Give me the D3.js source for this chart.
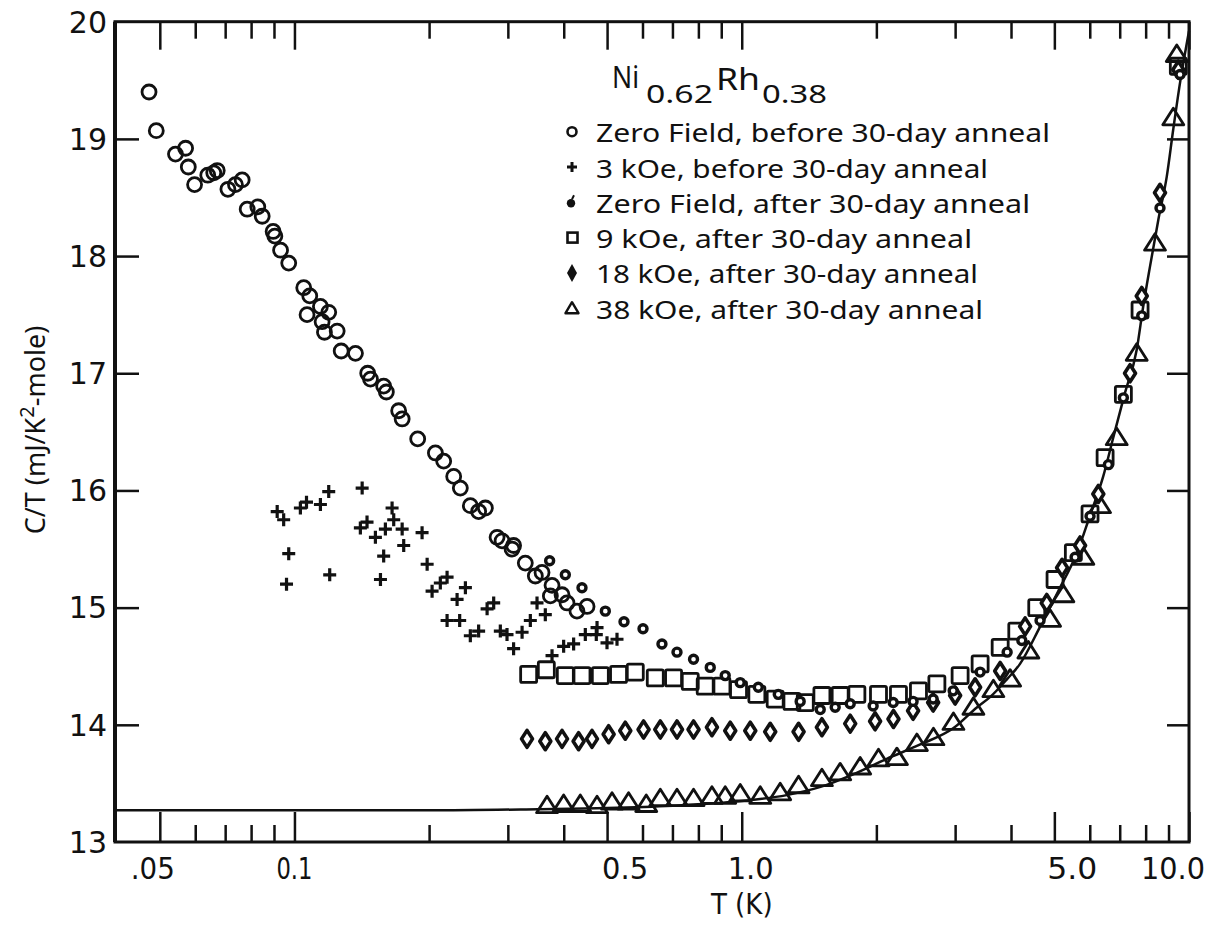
<!DOCTYPE html>
<html><head><meta charset="utf-8">
<script src="https://cdn.jsdelivr.net/npm/d3@7"></script>
<style>body{margin:0;background:#fff}</style>
</head><body>
<svg id="c" width="1220" height="931"></svg>
<script>
// ---------------- data ----------------
const zeroBeforeT = [0.0473,0.0491,0.0542,0.0571,0.0579,0.0598,0.0640,0.0660,0.0672,0.0710,0.0738,0.0764,0.0784,0.0828,0.0847,0.0896,0.0904,0.0931,0.0971,0.1049,0.1082,0.1143,0.1193,0.1067,0.1153,0.1167,0.1246,0.1272,0.1369,0.1458,0.1479,0.1583,0.1605,0.1710,0.1741,0.1886,0.2066,0.2156,0.2270,0.2349,0.2473,0.2581,0.2672,0.2838,0.2912,0.3065,0.3090,0.3282,0.3456,0.3577,0.3766,0.3734,0.3965,0.4068,0.4282,0.4510];
const zeroBeforeV = [19.40,19.07,18.87,18.92,18.76,18.61,18.69,18.71,18.73,18.57,18.61,18.65,18.40,18.42,18.34,18.21,18.17,18.05,17.94,17.73,17.66,17.57,17.52,17.50,17.44,17.35,17.36,17.19,17.17,17.00,16.95,16.89,16.84,16.68,16.61,16.44,16.32,16.25,16.12,16.02,15.87,15.82,15.85,15.60,15.57,15.50,15.53,15.38,15.27,15.30,15.19,15.10,15.11,15.04,14.97,15.01];

const kOe3BeforeT = [0.0915,0.0946,0.0971,0.0960,0.1031,0.1064,0.1143,0.1193,0.1199,0.1417,0.1404,0.1453,0.1517,0.1597,0.1653,0.1667,0.1741,0.1755,0.1583,0.1557,0.1929,0.1980,0.2031,0.2119,0.2194,0.2310,0.2411,0.2194,0.2341,0.2473,0.2581,0.2696,0.2789,0.2886,0.2987,0.3090,0.3228,0.3368,0.3486,0.3638,0.3766,0.3998,0.4209,0.4470,0.4748,0.4730,0.4998,0.5262];
const kOe3BeforeV = [15.82,15.75,15.46,15.20,15.85,15.90,15.88,15.99,15.28,16.02,15.68,15.73,15.60,15.67,15.85,15.75,15.67,15.53,15.44,15.24,15.64,15.37,15.14,15.21,15.26,15.07,15.17,14.89,14.89,14.76,14.80,14.99,15.04,14.80,14.77,14.65,14.79,14.89,15.04,14.94,14.59,14.67,14.69,14.77,14.83,14.77,14.70,14.73];

const zeroAfterT = [0.3720,0.4033,0.4394,0.4955,0.5455,0.6016,0.6632,0.7166,0.7803,0.8504,0.9185,0.9923,1.089,1.207,1.351,1.498,1.618,1.748,1.967,2.181,2.416,2.679,2.970,3.412,3.921,4.229,4.645,5.563,6.008,6.603,7.133,7.841,8.613,9.548];
const zeroAfterV = [15.40,15.28,15.17,14.97,14.88,14.82,14.69,14.62,14.56,14.49,14.42,14.36,14.32,14.26,14.20,14.13,14.15,14.18,14.16,14.19,14.20,14.22,14.29,14.45,14.62,14.72,14.89,15.43,15.78,16.22,16.79,17.49,18.41,19.55];

const kOe9AfterT = [0.3339,0.3657,0.4033,0.4394,0.4829,0.5304,0.5781,0.6408,0.7041,0.7672,0.8286,0.9031,0.9836,1.081,1.188,1.295,1.387,1.511,1.660,1.809,2.022,2.241,2.484,2.731,3.078,3.412,3.783,4.121,4.567,5.018,5.514,6.008,6.493,7.133,7.773,9.465];
const kOe9AfterV = [14.43,14.47,14.42,14.42,14.42,14.43,14.45,14.40,14.40,14.37,14.33,14.33,14.30,14.26,14.22,14.20,14.19,14.25,14.25,14.26,14.26,14.26,14.29,14.35,14.42,14.52,14.66,14.80,15.00,15.24,15.47,15.80,16.28,16.82,17.54,19.62];

const kOe18AfterT = [0.3311,0.3638,0.3965,0.4318,0.4626,0.5040,0.5491,0.6033,0.6576,0.7166,0.7803,0.8578,0.9426,1.045,1.158,1.340,1.511,1.748,1.987,2.184,2.416,2.679,3.000,3.325,3.783,4.301,4.808,5.203,5.708,6.270,7.382,7.841,8.613,9.465];
const kOe18AfterV = [13.88,13.86,13.88,13.86,13.88,13.92,13.95,13.96,13.96,13.96,13.96,13.98,13.95,13.95,13.94,13.94,13.98,14.01,14.03,14.05,14.12,14.19,14.25,14.32,14.46,14.84,15.04,15.34,15.53,15.97,17.00,17.66,18.54,19.59];

const kOe38AfterT = [0.3671,0.3998,0.4356,0.4748,0.5129,0.5585,0.6117,0.6576,0.7166,0.7803,0.8578,0.9185,0.9923,1.100,1.219,1.340,1.511,1.660,1.840,2.022,2.223,2.464,2.683,2.974,3.296,3.653,3.981,4.374,4.891,5.238,5.805,6.326,6.893,7.640,8.395,9.223,9.390];
const kOe38AfterV = [13.31,13.32,13.32,13.31,13.34,13.34,13.32,13.37,13.37,13.37,13.39,13.39,13.41,13.39,13.42,13.48,13.54,13.59,13.64,13.71,13.72,13.84,13.89,14.02,14.15,14.30,14.39,14.63,14.90,15.11,15.43,15.87,16.45,17.17,18.11,19.18,19.72];

// solid curve, points
const curveT = [0.0397,0.1,0.2,0.35,0.5,0.7,1.0,1.26,1.5,1.78,2.11,2.5,2.97,3.36,3.6,3.92,4.19,4.65,5.1,5.62,6.0,6.43,6.77,7.19,7.64,7.9,8.18,8.54,8.92,9.22,9.55,10.0];
const curveV = [13.27,13.27,13.27,13.28,13.29,13.31,13.35,13.40,13.47,13.58,13.71,13.83,13.97,14.15,14.24,14.39,14.52,14.84,15.14,15.47,15.78,16.12,16.45,16.83,17.20,17.57,17.91,18.31,18.68,19.08,19.48,19.92];

const xMajorTicks = [0.05,0.1,0.5,1,5,10];
const xMinorTicks = [0.06,0.07,0.08,0.09,0.2,0.3,0.4,0.6,0.7,0.8,0.9,2,3,4,6,7,8,9];
const xTickLabels = [".05","0.1","0.5","1.0","5.0","10.0"];
const yTicks = [13,14,15,16,17,18,19,20];
const legendLabels = ["Zero Field, before 30-day anneal","3 kOe, before 30-day anneal","Zero Field, after 30-day anneal","9 kOe, after 30-day anneal","18 kOe, after 30-day anneal","38 kOe, after 30-day anneal"];

// ---------------- layout ----------------
const L = 115, R = 1189, T0 = 21.7, B = 842;
const svg = d3.select("#c");
const x = d3.scaleLog().domain([0.0397, 10]).range([L, R]);
const y = d3.scaleLinear().domain([13, 20]).range([B, T0]);
const ink = "#111";
const fontMain = "'Noto Sans','DejaVu Sans',sans-serif";

// ticks
function styleAxis(g){ g.select(".domain").remove(); g.selectAll("line").attr("stroke", ink).attr("stroke-width", 2.5); g.selectAll("text").remove(); }
svg.append("g").attr("transform",`translate(0,${B})`).call(d3.axisBottom(x).tickValues(xMinorTicks).tickSize(-17)).call(styleAxis);
svg.append("g").attr("transform",`translate(0,${B})`).call(d3.axisBottom(x).tickValues(xMajorTicks).tickSize(-30)).call(styleAxis);
svg.append("g").attr("transform",`translate(0,${T0})`).call(d3.axisTop(x).tickValues(xMinorTicks).tickSize(-17)).call(styleAxis);
svg.append("g").attr("transform",`translate(0,${T0})`).call(d3.axisTop(x).tickValues(xMajorTicks).tickSize(-28)).call(styleAxis);
svg.append("g").attr("transform",`translate(${L},0)`).call(d3.axisLeft(y).tickValues(yTicks.slice(1,-1)).tickSize(-24)).call(styleAxis);
svg.append("g").attr("transform",`translate(${R},0)`).call(d3.axisRight(y).tickValues(yTicks.slice(1,-1)).tickSize(-22)).call(styleAxis);

// frame
svg.append("rect").attr("x",L).attr("y",T0).attr("width",R-L).attr("height",B-T0)
  .attr("fill","none").attr("stroke",ink).attr("stroke-width",3);
svg.append("line").attr("x1",L).attr("x2",L).attr("y1",T0).attr("y2",B).attr("stroke",ink).attr("stroke-width",4);

// tick labels (hand-lettered in the original: slightly offset from their ticks)
const xLabelDx = [-7,0,18,9,18,-16];
const xLabelW = [44,36,46,46,50,64];
svg.append("g").selectAll("text").data(xMajorTicks).join("text")
  .attr("x",(d,i)=>x(d)+xLabelDx[i]-xLabelW[i]/2).attr("y",B+37)
  .attr("textLength",(d,i)=>xLabelW[i]).attr("lengthAdjust","spacingAndGlyphs")
  .attr("font-family","'Liberation Sans Narrow','DejaVu Sans Condensed','Liberation Sans',sans-serif")
  .attr("font-size",30).attr("fill",ink).text((d,i)=>xTickLabels[i]);

svg.append("g").selectAll("text").data(yTicks).join("text")
  .attr("x",L-8).attr("y",d=>y(d)).attr("dy","0.36em")
  .attr("text-anchor","end").attr("font-family","'DejaVu Sans',sans-serif")
  .attr("font-size",30).attr("fill",ink).text(d=>d);

// axis titles
svg.append("text").attr("x",x(1)).attr("y",914).attr("text-anchor","middle")
  .attr("font-family","'Liberation Sans Narrow','DejaVu Sans Condensed','Liberation Sans',sans-serif")
  .attr("font-size",29).attr("fill",ink).text("T (K)");
const yt = svg.append("text").attr("transform","translate(45,430) rotate(-90)").attr("text-anchor","middle")
  .attr("font-family",fontMain).attr("font-size",27).attr("fill",ink);
yt.append("tspan").text("C/T (mJ/K");
yt.append("tspan").attr("dy",-11).attr("font-size",20).text("2");
yt.append("tspan").attr("dy",11).text("-mole)");

// curve
const line = d3.line().x((d,i)=>x(curveT[i])).y((d,i)=>y(curveV[i])).curve(d3.curveMonotoneX);
svg.append("path").attr("d",line(curveT)).attr("fill","none").attr("stroke",ink).attr("stroke-width",2.5);

// markers
const sw = 2.8;
function pts(tA,vA){ return tA.map((t,i)=>({t,v:vA[i]})); }
const gM = svg.append("g");
// 38 kOe triangles
gM.append("g").selectAll("path").data(pts(kOe38AfterT,kOe38AfterV)).join("path")
  .attr("transform",d=>`translate(${x(d.t)},${y(d.v)})`).attr("d","M0,-9.5L10.5,7L-10.5,7Z")
  .attr("fill","none").attr("stroke",ink).attr("stroke-width",sw).attr("stroke-linejoin","round");
// 9 kOe squares
gM.append("g").selectAll("rect").data(pts(kOe9AfterT,kOe9AfterV)).join("rect")
  .attr("x",d=>x(d.t)-8).attr("y",d=>y(d.v)-8).attr("width",16).attr("height",16).attr("rx",1.5)
  .attr("fill","none").attr("stroke",ink).attr("stroke-width",sw);
// 18 kOe diamonds
gM.append("g").selectAll("path").data(pts(kOe18AfterT,kOe18AfterV)).join("path")
  .attr("transform",d=>`translate(${x(d.t)},${y(d.v)})`).attr("d","M0,-8.5L5.5,0L0,8.5L-5.5,0Z")
  .attr("fill","#fff").attr("stroke",ink).attr("stroke-width",3.6).attr("stroke-linejoin","round");
// zero field after: small heavy rings
gM.append("g").selectAll("circle").data(pts(zeroAfterT,zeroAfterV)).join("circle")
  .attr("cx",d=>x(d.t)).attr("cy",d=>y(d.v)).attr("r",4)
  .attr("fill","#fff").attr("stroke",ink).attr("stroke-width",3.4);
// zero field before: open circles
gM.append("g").selectAll("circle").data(pts(zeroBeforeT,zeroBeforeV)).join("circle")
  .attr("cx",d=>x(d.t)).attr("cy",d=>y(d.v)).attr("r",7)
  .attr("fill","none").attr("stroke",ink).attr("stroke-width",sw);
// 3 kOe pluses
gM.append("g").selectAll("path").data(pts(kOe3BeforeT,kOe3BeforeV)).join("path")
  .attr("transform",d=>`translate(${x(d.t)},${y(d.v)})`).attr("d","M-6.5,0H6.5M0,-6.5V6.5")
  .attr("fill","none").attr("stroke",ink).attr("stroke-width",3.2);

// legend
const lg = svg.append("g").attr("font-family",fontMain).attr("fill",ink);
lg.append("text").attr("x",612).attr("y",88).attr("font-size",30).attr("textLength",27).attr("lengthAdjust","spacingAndGlyphs").text("Ni");
lg.append("text").attr("x",646).attr("y",103).attr("font-size",25).attr("textLength",67).attr("lengthAdjust","spacingAndGlyphs").text("0.62");
lg.append("text").attr("x",716).attr("y",90).attr("font-size",30).attr("textLength",44).attr("lengthAdjust","spacingAndGlyphs").text("Rh");
lg.append("text").attr("x",762).attr("y",103).attr("font-size",25).attr("textLength",65).attr("lengthAdjust","spacingAndGlyphs").text("0.38");

const legEnds = [1050,988,1030,972,978,983];
const legY0 = 131.7, legDy = 35.3, legTX = 596, legMX = 572;
lg.selectAll("text.e").data(legendLabels).join("text").attr("class","e")
  .attr("x",legTX).attr("y",(d,i)=>legY0+i*legDy+10.5).attr("font-size",25)
  .attr("textLength",(d,i)=>legEnds[i]-legTX).attr("lengthAdjust","spacingAndGlyphs").text(d=>d);
const my = i=>legY0+i*legDy;
lg.append("circle").attr("cx",legMX).attr("cy",my(0)).attr("r",4.5).attr("fill","none").attr("stroke",ink).attr("stroke-width",2.6);
lg.append("path").attr("transform",`translate(${legMX},${my(1)})`).attr("d","M-5,0H5M0,-5V5").attr("stroke",ink).attr("stroke-width",3);
lg.append("circle").attr("cx",legMX-1).attr("cy",my(2)+1).attr("r",4.2).attr("fill",ink);
lg.append("path").attr("transform",`translate(${legMX-1},${my(2)+1})`).attr("d","M1,-4L3,-8").attr("stroke",ink).attr("stroke-width",2);
lg.append("rect").attr("x",legMX-4.5).attr("y",my(3)-5).attr("width",10).attr("height",10).attr("fill","none").attr("stroke",ink).attr("stroke-width",2.6);
lg.append("path").attr("transform",`translate(${legMX},${my(4)})`).attr("d","M0,-9L5,0L0,9L-5,0Z").attr("fill",ink);
lg.append("path").attr("transform",`translate(${legMX},${my(5)})`).attr("d","M0,-6L6.5,5L-6.5,5Z").attr("fill","none").attr("stroke",ink).attr("stroke-width",2.4).attr("stroke-linejoin","round");
</script></body></html>
